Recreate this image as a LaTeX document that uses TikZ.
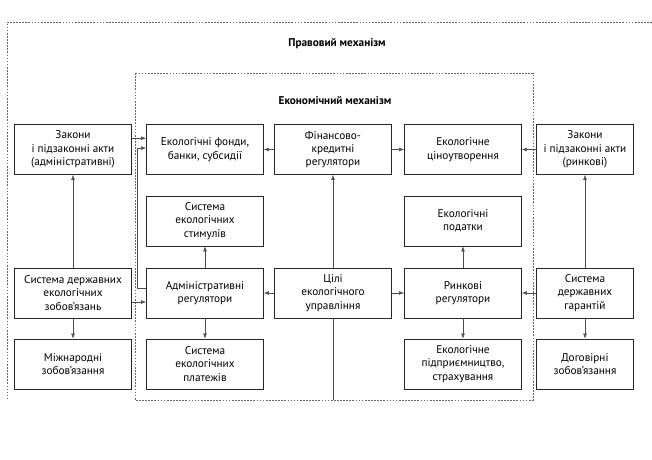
\documentclass[tikz,border=0pt]{standalone}
\usepackage{fontspec}
\setmainfont{PT Sans}
\usetikzlibrary{positioning,arrows.meta}

\begin{document}
\begin{tikzpicture}[x=0.025cm,y=-0.025cm,
        blok/.style={draw=black!85,line width=0.5pt,minimum width=2.925cm,
            minimum height=1.25cm,align=center,inner sep=1pt,
            font=\fontsize{8}{9.5}\selectfont},
        vuz/.style={blok,minimum width=2.425cm},
        arr/.style={draw=black!70,line width=0.35pt,-{Latex[length=3.5pt,width=2.6pt]}},
        mezha/.style={draw=black!60,line width=0.5pt,dash pattern=on 1.2pt off 1pt},
        zagol/.style={font=\fontsize{8}{9.5}\selectfont\bfseries}]
            \useasboundingbox (0,0) rectangle (652,460);
            % dashed frames
            \draw[mezha] (652,22) -- (7,22) -- (7,398);
            \draw[mezha] (135,73) rectangle (533,400);
            \node[zagol] (prav) at (337,44) {Правовий механізм};
            \node[zagol] (ekon) at (335,101) {Економічний механізм};
            % row 1
            \node[blok] (law1) at (73,149.5) {Закони\\і підзаконні акти\\(адміністративні)};
            \node[blok] (fond) at (205,149.5) {Екологічні фонди,\\банки, субсидії};
            \node[blok] (fin) at (333,149.5) {Фінансово-\\кредитні\\регулятори};
            \node[blok] (cin) at (463,149.5) {Екологічне\\ціноутворення};
            \node[vuz] (law2) at (585,149.5) {Закони\\і підзаконні акти\\(ринкові)};
            % row 2
            \node[blok] (stim) at (205,221) {Система\\екологічних\\стимулів};
            \node[blok] (pod) at (463,221) {Екологічні\\податки};
            % row 3
            \node[blok] (obl) at (73,293) {Система державних\\екологічних\\зобов’язань};
            \node[blok] (adm) at (205,293) {Адміністративні\\регулятори};
            \node[blok] (goal) at (333,293) {Цілі\\екологічного\\управління};
            \node[blok] (rin) at (463,293) {Ринкові\\регулятори};
            \node[vuz] (gar) at (585,293) {Система\\державних\\гарантій};
            % row 4
            \node[blok] (mizh) at (73,364) {Міжнародні\\зобов’язання};
            \node[blok] (plat) at (205,364) {Система\\екологічних\\платежів};
            \node[blok] (pidp) at (463,364) {Екологічне\\підприємництво,\\страхування};
            \node[vuz] (dog) at (585,364) {Договірні\\зобов’язання};
            \coordinate (niz) at (333,400);
            % connectors
            \foreach \a/\b in {obl/law1,obl/mizh,adm/stim,adm/plat,goal/fin,
                    rin/pod,rin/pidp,gar/law2,gar/dog,fin/fond,fin/cin,
                    law2/cin,goal/adm,goal/rin,gar/rin}{%
                    \draw[arr] (\a) -- (\b);
                }
            \draw[arr] ([yshift=8pt]law1.east) -- ([yshift=8pt]fond.west);
            \draw[arr] ([yshift=-6.4pt]obl.east) -- ([yshift=-6.4pt]adm.west);
            \draw[arr] ([yshift=3.5pt]adm.west) -- ++(-9,0) |- ([yshift=1pt]fond.west);
            \draw[draw=black!70,line width=0.35pt] (goal.south) -- (niz);
        \end{tikzpicture}
\end{document}
